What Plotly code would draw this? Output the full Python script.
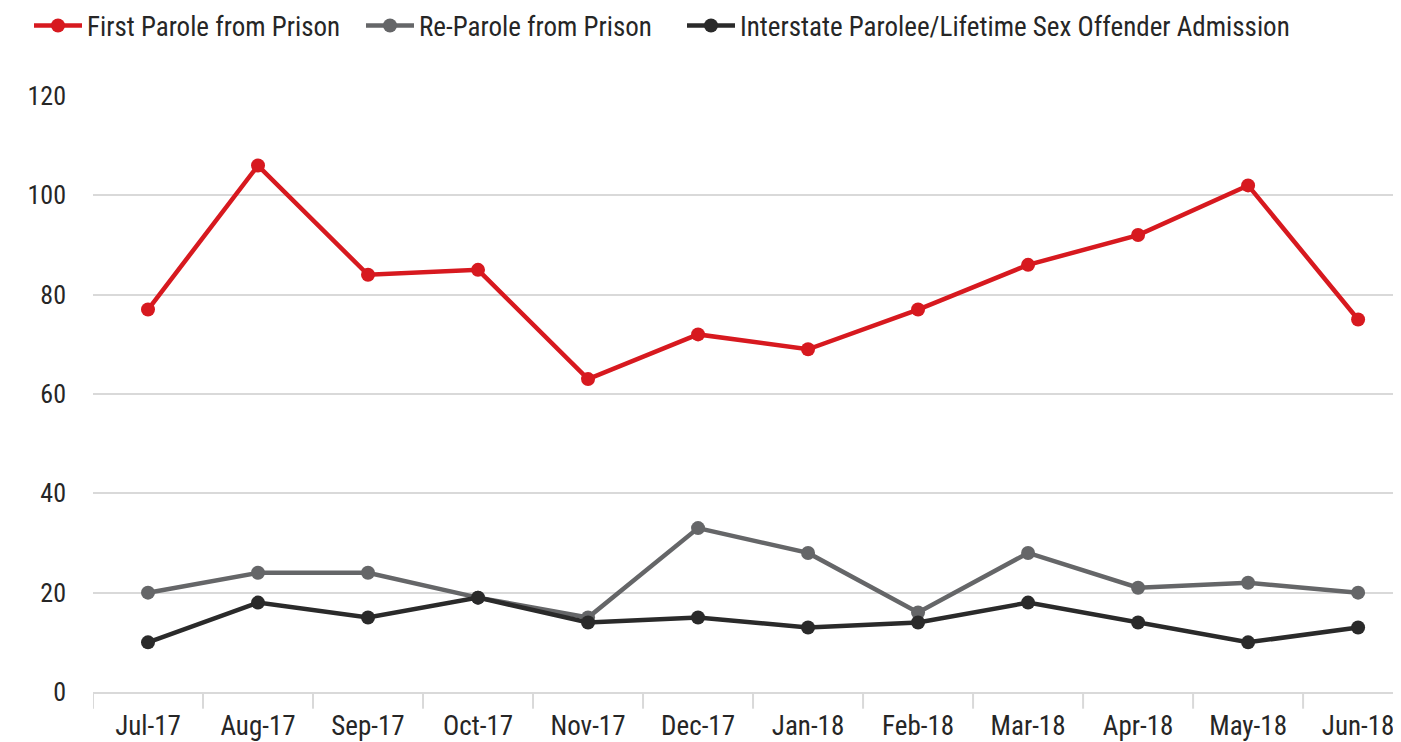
import plotly.graph_objects as go

months = ["Jul-17", "Aug-17", "Sep-17", "Oct-17", "Nov-17", "Dec-17",
          "Jan-18", "Feb-18", "Mar-18", "Apr-18", "May-18", "Jun-18"]
first_parole = [77, 106, 84, 85, 63, 72, 69, 77, 86, 92, 102, 75]
re_parole = [20, 24, 24, 19, 15, 33, 28, 16, 28, 21, 22, 20]
interstate = [10, 18, 15, 19, 14, 15, 13, 14, 18, 14, 10, 13]
y_ticks = [0, 20, 40, 60, 80, 100, 120]

FONT = "Liberation Sans Narrow, Arial Narrow, Roboto Condensed, sans-serif"
W, H = 1393, 734  # page body has an 8px margin

fig = go.Figure()
series = [
    ("First Parole from Prison", first_parole, "#D7191F", "legend", 21),
    ("Re-Parole from Prison", re_parole, "#656668", "legend2", 353),
    ("Interstate Parolee/Lifetime Sex Offender Admission", interstate, "#2A2A2A", "legend3", 674),
]
legends = {}
for name, vals, col, lg, lx in series:
    fig.add_trace(go.Scatter(
        x=list(range(len(months))), y=vals, name=name, mode="lines+markers",
        line=dict(color=col, width=4.5), marker=dict(color=col, size=14),
        legend=lg,
    ))
    legends[lg] = dict(orientation="h", xref="container", yref="container",
                       x=lx / W, y=1 - 18 / H, xanchor="left", yanchor="middle",
                       font=dict(family=FONT, size=27, color="#262626"),
                       itemwidth=48, bgcolor="rgba(0,0,0,0)")

fig.update_layout(
    width=W, height=H,
    margin=dict(l=85, r=0, t=88, b=50, autoexpand=False),
    paper_bgcolor="white", plot_bgcolor="white",
    font=dict(family=FONT, size=26, color="#262626"),
    showlegend=True,
    xaxis=dict(
        tickmode="array", tickvals=list(range(len(months))), ticktext=months,
        range=[-0.5, 11.39], showgrid=False, zeroline=False, automargin=False,
        showline=True, linecolor="#d9d9d9", linewidth=2,
        ticks="", tickfont=dict(family=FONT, size=27, color="#262626"),
        ticklabelstandoff=9,
    ),
    yaxis=dict(
        range=[0, 120], tickvals=y_ticks, showgrid=True, gridcolor="#d9d9d9",
        gridwidth=1.5, zeroline=False, showline=False, automargin=False,
        tickfont=dict(family=FONT, size=26, color="#262626"), ticklen=0,
        ticklabelstandoff=26,
    ),
)
fig.update_layout(**legends)

# category boundary tick marks below axis
for i in range(len(months) + 1):
    fig.add_shape(type="line", xref="x", yref="paper",
                  x0=i - 0.5, x1=i - 0.5, y0=0, y1=-0.028,
                  line=dict(color="#d9d9d9", width=2))

fig.write_html("out.html")
